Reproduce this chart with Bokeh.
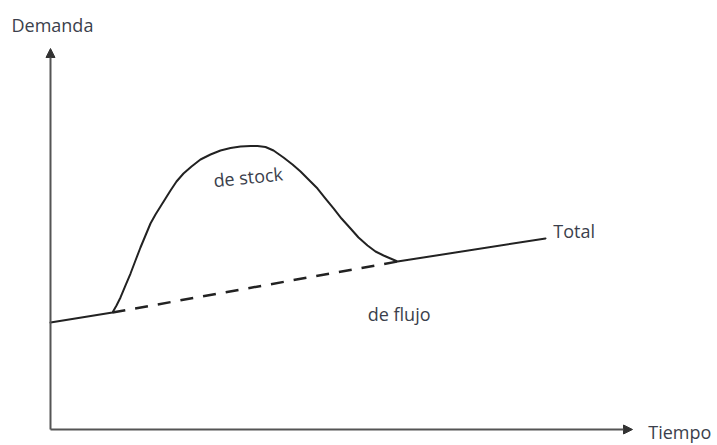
from bokeh.plotting import figure
from bokeh.models import Range1d, Label, Arrow, NormalHead
from bokeh.embed import file_html
from bokeh.resources import INLINE

# ---- data (arbitrary units) ----
time_total = [0.000, 1.065, 1.134, 1.203, 1.289, 1.375, 1.460, 1.546, 1.632, 1.718,
              1.804, 1.890, 1.976, 2.062, 2.165, 2.285, 2.423, 2.577, 2.749, 2.921,
              3.093, 3.265, 3.436, 3.557, 3.694, 3.832, 4.003, 4.158, 4.296, 4.433,
              4.588, 4.725, 4.863, 5.000, 5.155, 5.292, 5.447, 5.584, 5.722, 5.842,
              5.962, 8.505]
demand_total = [2.808, 3.071, 3.255, 3.465, 3.780, 4.094, 4.436, 4.777, 5.092, 5.407,
                5.643, 5.853, 6.063, 6.273, 6.509, 6.719, 6.903, 7.087, 7.218, 7.323,
                7.388, 7.428, 7.441, 7.441, 7.415, 7.323, 7.139, 6.955, 6.772, 6.562,
                6.325, 6.063, 5.801, 5.538, 5.276, 5.039, 4.829, 4.672, 4.567, 4.488,
                4.409, 5.013]
time_flow = [1.065, 5.962]
demand_flow = [3.071, 4.409]

x_label = "Tiempo"
y_label = "Demanda"
total_label = "Total"
stock_label = "de stock"
flow_label = "de flujo"

X_MAX = 10
Y_MAX = 10

TEXT_COLOR = "#3b3f4c"
LINE_COLOR = "#222222"
AXIS_COLOR = "#555555"
HEAD_COLOR = "#333333"
FONT = "Open Sans"
FSIZE = "18px"

p = figure(width=717, height=445, output_backend="svg", toolbar_location=None,
           x_range=Range1d(-0.859, 11.460), y_range=Range1d(-0.420, 11.260),
           x_axis_location=None, y_axis_location=None,
           min_border=0)
p.outline_line_color = None
p.grid.visible = False
p.background_fill_color = "white"
p.border_fill_color = "white"

# axes drawn as arrows from the origin
p.add_layout(Arrow(end=NormalHead(size=9, fill_color=HEAD_COLOR, line_color=HEAD_COLOR),
                   x_start=0, y_start=0, x_end=X_MAX, y_end=0,
                   line_color=AXIS_COLOR, line_width=2))
p.add_layout(Arrow(end=NormalHead(size=9, fill_color=HEAD_COLOR, line_color=HEAD_COLOR),
                   x_start=0, y_start=0, x_end=0, y_end=Y_MAX,
                   line_color=AXIS_COLOR, line_width=2))

# curves
p.line(time_total, demand_total, line_color=LINE_COLOR, line_width=2,
       line_join="round", line_cap="round")
p.line(time_flow, demand_flow, line_color=LINE_COLOR, line_width=2.5,
       line_dash="13 10")

def lab(txt, x, y, angle=0.0):
    p.add_layout(Label(x=x, y=y, text=txt, text_font=FONT, text_font_size=FSIZE,
                       text_color=TEXT_COLOR, text_baseline="alphabetic",
                       text_align="left", angle=angle))

lab(y_label, -0.67, 10.63)
lab(x_label, 10.27, -0.06)
lab(total_label, 8.64, 5.22)
lab(stock_label, 2.80, 6.54, angle=0.10)
lab(flow_label, 5.45, 3.04)

open("out.html", "w").write(file_html(p, INLINE))
